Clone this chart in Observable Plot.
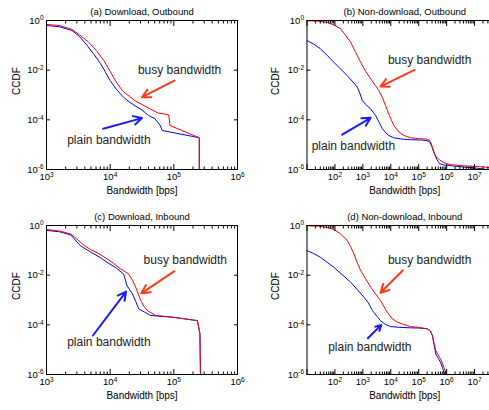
<!DOCTYPE html>
<html>
<head>
<meta charset="utf-8">
<script src="https://cdn.jsdelivr.net/npm/d3@7"></script>
<script src="https://cdn.jsdelivr.net/npm/@observablehq/plot@0.6"></script>
<style>
html, body { margin: 0; padding: 0; background: #fff; overflow: hidden; width: 489px; height: 410px; }
#wrap { position: relative; width: 489px; height: 410px; overflow: hidden; background: #fff; }
.panel { position: absolute; }
.panel svg { max-width: none !important; }
</style>
</head>
<body>
<div id="wrap"></div>
<script>
// ---------- data (log10 of bandwidth [bps], log10 of CCDF) ----------
// (a) Download, Outbound
const aBusyLX  = [3.00, 3.20, 3.40, 3.52, 3.66, 3.78, 3.90, 4.00, 4.10, 4.20, 4.30, 4.40, 4.50, 4.62, 4.75, 4.92, 4.94, 5.40, 5.40];
const aBusyLY  = [-0.16, -0.20, -0.36, -0.58, -0.87, -1.20, -1.61, -2.05, -2.50, -2.85, -3.05, -3.25, -3.38, -3.55, -3.72, -3.80, -4.23, -4.72, -6.30];
const aPlainLX = [3.00, 3.20, 3.40, 3.52, 3.64, 3.75, 3.85, 3.92, 4.00, 4.10, 4.21, 4.30, 4.40, 4.50, 4.60, 4.70, 4.78, 4.82, 5.40, 5.40];
const aPlainLY = [-0.20, -0.25, -0.40, -0.65, -1.01, -1.38, -1.74, -2.05, -2.42, -2.78, -3.09, -3.28, -3.45, -3.60, -3.82, -3.95, -4.20, -4.43, -4.72, -6.30];
// (b) Non-download, Outbound
const bBusyLX  = [1.00, 1.40, 1.72, 2.00, 2.20, 2.40, 2.56, 2.75, 2.92, 3.10, 3.28, 3.45, 3.57, 3.70, 3.81, 3.95, 4.11, 4.30, 4.47, 4.70, 5.00, 5.25, 5.38, 5.45, 5.52, 5.60, 5.75, 5.95, 6.17, 6.60, 7.10, 7.60, 8.00];
const bBusyLY  = [-0.01, -0.03, -0.07, -0.20, -0.33, -0.62, -0.87, -1.30, -1.68, -2.05, -2.35, -2.62, -2.82, -3.10, -3.42, -3.82, -4.23, -4.50, -4.63, -4.72, -4.76, -4.77, -4.82, -4.95, -5.25, -5.45, -5.62, -5.75, -5.81, -5.85, -5.88, -5.92, -5.95];
const bPlainLX = [1.00, 1.24, 1.48, 1.72, 1.96, 2.20, 2.44, 2.65, 2.80, 2.90, 2.98, 3.10, 3.28, 3.46, 3.58, 3.70, 3.82, 3.93, 4.10, 4.35, 4.70, 5.07, 5.30, 5.40, 5.48, 5.57, 5.65, 5.75, 5.95, 6.17, 6.60, 7.10, 7.60, 8.00];
const bPlainLY = [-0.81, -0.95, -1.14, -1.40, -1.68, -1.95, -2.22, -2.48, -2.68, -2.95, -3.22, -3.38, -3.56, -3.83, -4.10, -4.36, -4.52, -4.63, -4.72, -4.77, -4.80, -4.81, -4.84, -4.90, -5.10, -5.37, -5.60, -5.77, -5.83, -5.85, -5.90, -5.95, -6.02, -6.05];
// (c) Download, Inbound
const cBusyLX  = [3.00, 3.20, 3.38, 3.48, 3.59, 3.70, 3.80, 3.95, 4.05, 4.16, 4.29, 4.35, 4.40, 4.44, 4.48, 4.53, 4.58, 4.71, 5.00, 5.37, 5.41, 5.42];
const cBusyLY  = [-0.16, -0.22, -0.34, -0.55, -0.80, -0.98, -1.10, -1.34, -1.52, -1.74, -1.95, -2.20, -2.48, -2.75, -3.02, -3.25, -3.42, -3.62, -3.70, -3.83, -4.36, -6.30];
const cPlainLX = [3.00, 3.20, 3.38, 3.53, 3.70, 3.85, 3.95, 4.10, 4.21, 4.24, 4.26, 4.31, 4.35, 4.40, 4.45, 4.55, 4.63, 5.00, 5.37, 5.41, 5.42];
const cPlainLY = [-0.20, -0.25, -0.38, -0.81, -1.08, -1.30, -1.48, -1.72, -1.95, -2.20, -2.40, -2.60, -2.75, -3.05, -3.36, -3.50, -3.62, -3.70, -3.83, -4.36, -6.30];
// (d) Non-download, Inbound
const dBusyLX  = [1.00, 1.40, 1.72, 2.00, 2.20, 2.44, 2.56, 2.68, 2.80, 2.92, 3.10, 3.28, 3.45, 3.63, 3.75, 3.87, 4.05, 4.23, 4.45, 4.71, 5.00, 5.31, 5.42, 5.49, 5.55, 5.61, 5.70, 5.78, 5.85, 5.90, 5.99, 6.02];
const dBusyLY  = [-0.01, -0.03, -0.07, -0.18, -0.34, -0.60, -0.85, -1.14, -1.50, -1.81, -2.15, -2.48, -2.75, -3.02, -3.25, -3.49, -3.75, -3.89, -3.98, -4.07, -4.10, -4.16, -4.25, -4.43, -4.75, -5.03, -5.22, -5.37, -5.55, -5.71, -5.97, -6.30];
const dPlainLX = [1.00, 1.24, 1.48, 1.72, 1.96, 2.25, 2.56, 2.80, 3.04, 3.20, 3.34, 3.50, 3.63, 3.80, 3.99, 4.30, 4.71, 5.00, 5.31, 5.42, 5.49, 5.55, 5.61, 5.70, 5.78, 5.86, 5.92, 5.95];
const dPlainLY = [-1.01, -1.13, -1.28, -1.48, -1.68, -1.97, -2.28, -2.58, -2.89, -3.12, -3.42, -3.65, -3.83, -3.98, -4.07, -4.10, -4.12, -4.13, -4.16, -4.25, -4.43, -4.80, -5.17, -5.35, -5.50, -5.75, -5.97, -6.30];

// annotations: [log10 x, log10 y]
const aBusyText = [5.09, -2.01], aBusyFrom = [5.01, -2.42], aBusyTo = [4.50, -3.09];
const aPlainText = [3.98, -4.83], aPlainFrom = [3.89, -4.36], aPlainTo = [4.50, -3.93];
const bBusyText = [5.39, -1.58], bBusyFrom = [4.85, -1.99], bBusyTo = [3.63, -2.66];
const bPlainText = [2.66, -5.07], bPlainFrom = [2.26, -4.60], bPlainTo = [3.28, -3.92];
const cBusyText = [5.18, -1.41], cBusyFrom = [5.01, -1.84], cBusyTo = [4.49, -2.73];
const cPlainText = [3.98, -4.70], cPlainFrom = [3.73, -4.43], cPlainTo = [4.25, -2.66];
const dBusyText = [5.39, -1.41], dBusyFrom = [4.43, -1.81], dBusyTo = [3.63, -2.71];
const dPlainText = [3.25, -4.90], dPlainFrom = [3.18, -4.54], dPlainTo = [3.66, -4.00];

const titles = ["(a) Download, Outbound", "(b) Non-download, Outbound", "(c) Download, Inbound", "(d) Non-download, Inbound"];
const busyLabel = "busy bandwidth", plainLabel = "plain bandwidth";
const xAxisLabel = "Bandwidth [bps]", yAxisLabel = "CCDF";

// axis ticks
const yTicks = [1e-6, 1e-4, 1e-2, 1];
const dlXMajor = [1e3, 1e4, 1e5, 1e6], dlXLabels = [1e3, 1e4, 1e5, 1e6];
const ndXMajor = [1e1, 1e2, 1e3, 1e4, 1e5, 1e6, 1e7], ndXLabels = [1e2, 1e3, 1e4, 1e5, 1e6, 1e7];

// ---------- drawing ----------
const FONT = "'Liberation Sans', Arial, Helvetica, sans-serif";
const busyColor = "#ff0000", plainColor = "#0000ff";
const busyArrowColor = "#ff3a1a", plainArrowColor = "#1a1aff";

const pts = (lx, ly) => lx.map((v, i) => ({x: 10 ** v, y: 10 ** ly[i]}));
const P = (a) => ({x: 10 ** a[0], y: 10 ** a[1]});
const fmt = (d) => "10^" + Math.round(Math.log10(d));

function minorTicks(dom) {
  const out = [];
  const e0 = Math.floor(Math.log10(dom[0])), e1 = Math.ceil(Math.log10(dom[1]));
  for (let e = e0; e < e1; e++) for (let k = 2; k <= 9; k++) {
    const v = k * 10 ** e;
    if (v > dom[0] && v < dom[1]) out.push(v);
  }
  return out;
}

function panel(cfg) {
  const {title, left, top, xDom, pxPerDecade, marginLeft, xMajor, xLabels, busy, plain,
         busyText, busyFrom, busyTo, plainText, plainFrom, plainTo, ylabDx} = cfg;
  const frameW = pxPerDecade * Math.log10(xDom[1] / xDom[0]);
  const marginRight = 8, marginTop = 20, marginBottom = 36;
  const width = Math.round(marginLeft + frameW + marginRight);
  const minors = minorTicks(xDom);
  const arrows = [
    {x1: P(busyFrom).x, y1: P(busyFrom).y, x2: P(busyTo).x, y2: P(busyTo).y, c: busyArrowColor},
    {x1: P(plainFrom).x, y1: P(plainFrom).y, x2: P(plainTo).x, y2: P(plainTo).y, c: plainArrowColor}
  ];
  const labels = [
    {...P(busyText), t: busyLabel},
    {...P(plainText), t: plainLabel}
  ];
  const svg = Plot.plot({
    width, height: 205, marginLeft, marginRight, marginTop, marginBottom,
    style: {fontFamily: FONT, fontSize: "9.5px", background: "transparent", color: "#000", overflow: "visible", maxWidth: "none"},
    x: {type: "log", domain: xDom},
    y: {type: "log", domain: [1e-6, 1]},
    marks: [
      Plot.line(plain, {x: "x", y: "y", stroke: plainColor, strokeWidth: 1, clip: true}),
      Plot.line(busy, {x: "x", y: "y", stroke: busyColor, strokeWidth: 1, clip: true}),
      Plot.arrow(arrows, {x1: "x1", y1: "y1", x2: "x2", y2: "y2", stroke: "c", strokeWidth: 2, headLength: 7, headAngle: 55}),
      Plot.text(labels, {x: "x", y: "y", text: "t", fontSize: 12, fill: "#222"}),
      Plot.frame({stroke: "#000", strokeWidth: 1}),
      // inward ticks
      Plot.axisX(xMajor, {anchor: "bottom", tickSize: -5, fill: "none", label: null}),
      Plot.axisX(xMajor, {anchor: "top", tickSize: -5, fill: "none", label: null}),
      Plot.axisX(minors, {anchor: "bottom", tickSize: -2.5, fill: "none", label: null}),
      Plot.axisX(minors, {anchor: "top", tickSize: -2.5, fill: "none", label: null}),
      Plot.axisY(yTicks, {anchor: "left", tickSize: -4, fill: "none", label: null}),
      Plot.axisY(yTicks, {anchor: "right", tickSize: -4, fill: "none", label: null}),
      // labels
      Plot.axisX(xLabels, {anchor: "bottom", tickSize: 0, tickPadding: 4, tickFormat: fmt, label: null}),
      Plot.axisY(yTicks, {anchor: "left", tickSize: 0, tickPadding: 3, tickFormat: fmt, label: null}),
      Plot.text([title], {text: (d) => d, frameAnchor: "top", dy: -12, fontSize: 9.5}),
      Plot.text([xAxisLabel], {text: (d) => d, frameAnchor: "bottom", dy: 24, fontSize: 10}),
      Plot.text([yAxisLabel], {text: (d) => d, frameAnchor: "left", dx: ylabDx, rotate: -90, fontSize: 10})
    ]
  });
  svg.style.maxWidth = "none";
  svg.style.width = width + "px";
  svg.style.height = "205px";
  // superscripts for 10^n labels
  svg.querySelectorAll("text").forEach((t) => {
    const m = /^10\^(-?\d+)$/.exec(t.textContent.trim());
    if (!m) return;
    while (t.firstChild) t.removeChild(t.firstChild);
    t.appendChild(document.createTextNode("10"));
    const ts = document.createElementNS("http://www.w3.org/2000/svg", "tspan");
    ts.setAttribute("dy", "-0.5em");
    ts.setAttribute("font-size", "6.5px");
    ts.textContent = m[1];
    t.appendChild(ts);
  });
  const div = document.createElement("div");
  div.className = "panel";
  div.style.left = left + "px";
  div.style.top = top + "px";
  div.style.width = width + "px";
  div.style.height = "205px";
  div.appendChild(svg);
  document.getElementById("wrap").appendChild(div);
}

panel({title: titles[0], left: 0, top: 0, xDom: [1e3, 1e6], pxPerDecade: 63.7, marginLeft: 46,
  xMajor: dlXMajor, xLabels: dlXLabels, busy: pts(aBusyLX, aBusyLY), plain: pts(aPlainLX, aPlainLY),
  busyText: aBusyText, busyFrom: aBusyFrom, busyTo: aBusyTo, plainText: aPlainText, plainFrom: aPlainFrom, plainTo: aPlainTo, ylabDx: -30});
panel({title: titles[1], left: 244, top: 0, xDom: [1e1, 1e8], pxPerDecade: 27.9, marginLeft: 62.5,
  xMajor: ndXMajor, xLabels: ndXLabels, busy: pts(bBusyLX, bBusyLY), plain: pts(bPlainLX, bPlainLY),
  busyText: bBusyText, busyFrom: bBusyFrom, busyTo: bBusyTo, plainText: bPlainText, plainFrom: bPlainFrom, plainTo: bPlainTo, ylabDx: -31.5});
panel({title: titles[2], left: 0, top: 205, xDom: [1e3, 1e6], pxPerDecade: 63.7, marginLeft: 46,
  xMajor: dlXMajor, xLabels: dlXLabels, busy: pts(cBusyLX, cBusyLY), plain: pts(cPlainLX, cPlainLY),
  busyText: cBusyText, busyFrom: cBusyFrom, busyTo: cBusyTo, plainText: cPlainText, plainFrom: cPlainFrom, plainTo: cPlainTo, ylabDx: -30});
panel({title: titles[3], left: 244, top: 205, xDom: [1e1, 1e8], pxPerDecade: 27.9, marginLeft: 62.5,
  xMajor: ndXMajor, xLabels: ndXLabels, busy: pts(dBusyLX, dBusyLY), plain: pts(dPlainLX, dPlainLY),
  busyText: dBusyText, busyFrom: dBusyFrom, busyTo: dBusyTo, plainText: dPlainText, plainFrom: dPlainFrom, plainTo: dPlainTo, ylabDx: -31.5});
</script>
</body>
</html>
